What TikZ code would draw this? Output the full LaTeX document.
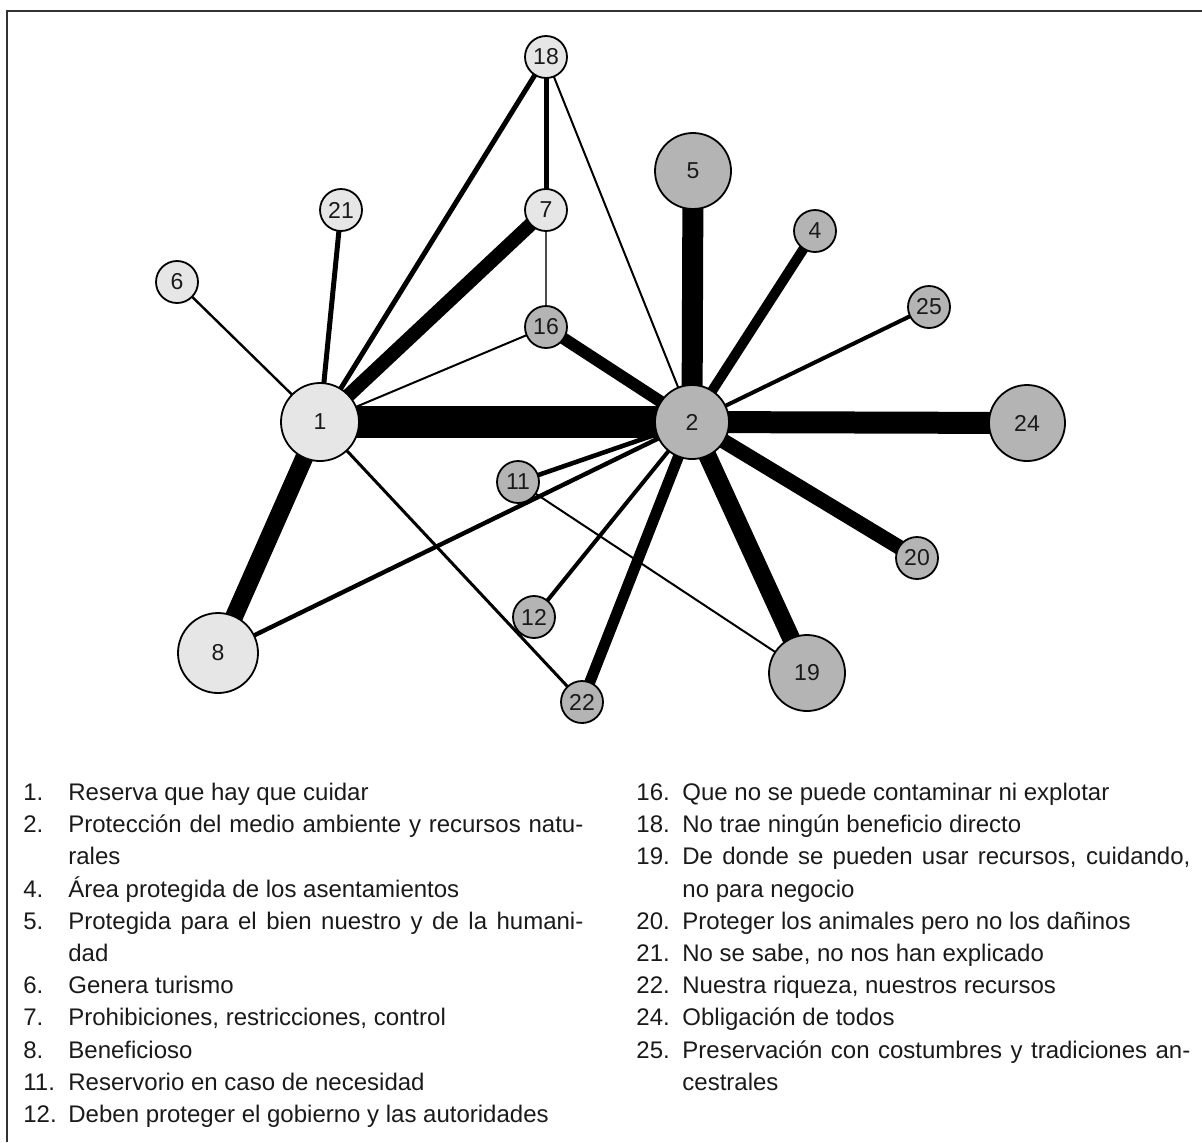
\documentclass[tikz,border=0pt]{standalone}
\usepackage{fontspec}
\setmainfont{Liberation Sans}
\usetikzlibrary{backgrounds}
\definecolor{palefill}{HTML}{E6E6E6}
\definecolor{darkfill}{HTML}{B4B4B4}
\definecolor{inkgray}{HTML}{1A1A1A}
\begin{document}
\begin{tikzpicture}[x=0.5pt,y=-0.5pt,
  vtx/.style={circle,draw=black,line width=0.9pt,inner sep=0pt,
    font=\fontsize{11.5}{13}\selectfont,text=inkgray},
  pale/.style={vtx,fill=palefill},
  dark/.style={vtx,fill=darkfill},
  sm/.style={minimum size=21pt},
  dia/.style={minimum size=#1},
  link/.style={line width=#1,draw=black},
  legnum/.style={anchor=base west,inner sep=0pt,text=inkgray,
    font=\fontsize{12}{14}\selectfont},
  legtxt/.style={legnum}
]
\useasboundingbox (0,0) rectangle (1202,1142);
% frame
\draw[line width=0.8pt,draw=black!80] (7,1142) -- (7,11) -- (1202,11);

% vertices
\node[pale,dia=39pt] (n1)  at (320,422) {1};
\node[dark,dia=37pt] (n2)  at (692,422) {2};
\node[dark,sm]       (n4)  at (815,231) {4};
\node[dark,dia=38pt] (n5)  at (693,171) {5};
\node[pale,sm]       (n6)  at (177,282) {6};
\node[pale,sm]       (n7)  at (546,210) {7};
\node[pale,dia=40pt] (n8)  at (218,653) {8};
\node[dark,sm]       (n11) at (518,482) {11};
\node[dark,sm]       (n12) at (534,617) {12};
\node[dark,sm]       (n16) at (546,327) {16};
\node[pale,sm]       (n18) at (546,57)  {18};
\node[dark,dia=38pt] (n19) at (807,673) {19};
\node[dark,sm]       (n20) at (917,558) {20};
\node[pale,sm]       (n21) at (341,210) {21};
\node[dark,sm]       (n22) at (582,702) {22};
\node[dark,dia=38pt] (n24) at (1027,423) {24};
\node[dark,sm]       (n25) at (929,307) {25};

% weighted links
\begin{scope}[on background layer]
\draw[link=16pt]  (n1.center) -- (n2.center);
\draw[link=11pt]  (n2.center) -- (n24.center);
\draw[link=10.5pt](n2.center) -- (n5.center);
\draw[link=9pt]   (n1.center) -- (n8.center);
\draw[link=9pt]   (n2.center) -- (n19.center);
\draw[link=7.5pt] (n2.center) -- (n20.center);
\draw[link=7pt]   (n1.center) -- (n7.center);
\draw[link=6pt]   (n2.center) -- (n16.center);
\draw[link=5.5pt] (n2.center) -- (n22.center);
\draw[link=5pt]   (n2.center) -- (n4.center);
\draw[link=2.3pt] (n2.center) -- (n11.center);
\draw[link=2.2pt] (n2.center) -- (n8.center);
\draw[link=2pt]   (n2.center) -- (n12.center);
\draw[link=2pt]   (n2.center) -- (n25.center);
\draw[link=2.5pt] (n1.center) -- (n18.center);
\draw[link=2.5pt] (n1.center) -- (n21.center);
\draw[link=2.5pt] (n18.center) -- (n7.center);
\draw[link=1.5pt] (n1.center) -- (n22.center);
\draw[link=1.2pt] (n1.center) -- (n6.center);
\draw[link=1pt]   (n1.center) -- (n16.center);
\draw[link=1pt]   (n2.center) -- (n18.center);
\draw[link=1pt]   (n11.center) -- (n19.center);
\draw[link=0.8pt,draw=black!70] (n7.center) -- (n16.center);
\end{scope}

% legend, left column
\node[legnum] (a1)  at (23,800)  {1.};
\node[legtxt] (t1)  at (68,800)  {Reserva que hay que cuidar};
\node[legnum] (a2)  at (23,832)  {2.};
\node[legtxt] (t2)  at (68,832)  {\makebox[257.5pt][s]{Protección del medio ambiente y recursos natu-}};
\node[legtxt] (t2b) at (68,864)  {rales};
\node[legnum] (a4)  at (23,897)  {4.};
\node[legtxt] (t4)  at (68,897)  {Área protegida de los asentamientos};
\node[legnum] (a5)  at (23,929)  {5.};
\node[legtxt] (t5)  at (68,929)  {\makebox[257.5pt][s]{Protegida para el bien nuestro y de la humani-}};
\node[legtxt] (t5b) at (68,961)  {dad};
\node[legnum] (a6)  at (23,993)  {6.};
\node[legtxt] (t6)  at (68,993)  {Genera turismo};
\node[legnum] (a7)  at (23,1025) {7.};
\node[legtxt] (t7)  at (68,1025) {Prohibiciones, restricciones, control};
\node[legnum] (a8)  at (23,1058) {8.};
\node[legtxt] (t8)  at (68,1058) {Beneficioso};
\node[legnum] (a11) at (23,1090) {11.};
\node[legtxt] (t11) at (68,1090) {Reservorio en caso de necesidad};
\node[legnum] (a12) at (23,1122) {12.};
\node[legtxt] (t12) at (68,1122) {Deben proteger el gobierno y las autoridades};

% legend, right column
\node[legnum] (a16) at (636,800)  {16.};
\node[legtxt] (t16) at (682,800)  {Que no se puede contaminar ni explotar};
\node[legnum] (a18) at (636,832)  {18.};
\node[legtxt] (t18) at (682,832)  {No trae ningún beneficio directo};
\node[legnum] (a19) at (636,864)  {19.};
\node[legtxt] (t19) at (682,864)  {\makebox[254pt][s]{De donde se pueden usar recursos, cuidando,}};
\node[legtxt] (t19b) at (682,897) {no para negocio};
\node[legnum] (a20) at (636,929)  {20.};
\node[legtxt] (t20) at (682,929)  {Proteger los animales pero no los dañinos};
\node[legnum] (a21) at (636,961)  {21.};
\node[legtxt] (t21) at (682,961)  {No se sabe, no nos han explicado};
\node[legnum] (a22) at (636,993)  {22.};
\node[legtxt] (t22) at (682,993)  {Nuestra riqueza, nuestros recursos};
\node[legnum] (a24) at (636,1025) {24.};
\node[legtxt] (t24) at (682,1025) {Obligación de todos};
\node[legnum] (a25) at (636,1058) {25.};
\node[legtxt] (t25) at (682,1058) {\makebox[254pt][s]{Preservación con costumbres y tradiciones an-}};
\node[legtxt] (t25b) at (682,1090) {cestrales};
\end{tikzpicture}
\end{document}
